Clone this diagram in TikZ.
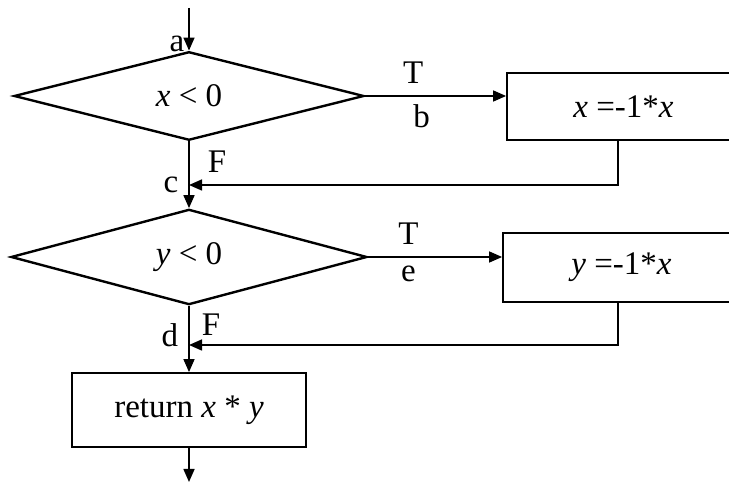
\documentclass[tikz,border=0pt]{standalone}
\usepackage{fontspec}
\setmainfont{Liberation Serif}
\usetikzlibrary{shapes.geometric,arrows.meta}

\begin{document}
\begin{tikzpicture}[x=0.5pt,y=-0.5pt,
  font=\fontsize{16.5}{19}\selectfont,
  decision/.style={diamond,draw,line width=1.2pt,inner sep=0pt},
  process/.style={rectangle,draw,line width=0.9pt,inner sep=0pt},
  arr/.style={line width=0.8pt,-{Triangle[length=6.5pt,width=5.5pt]}},
  lbl/.style={inner sep=2pt}]
\useasboundingbox (0,0) rectangle (729,491);
\clip (0,0) rectangle (729,491);
% nodes
\coordinate (in) at (189,8);
\node[decision,minimum width=175pt,minimum height=39pt] (d1) at (189,96) {\textit{x} < 0};
\node[process,minimum width=116.5pt,minimum height=33.5pt] (b1) at (623.5,106.5) {\textit{x} =-1*\textit{x}};
\coordinate (j1) at (189,185);
\node[decision,minimum width=178pt,minimum height=43pt] (d2) at (189,257) {\textit{y} < 0};
\node[process,minimum width=118.5pt,minimum height=34.5pt] (b2) at (621.5,267.5) {\textit{y} =-1*\textit{x}};
\coordinate (j2) at (189,345);
\node[process,minimum width=117pt,minimum height=37pt] (b3) at (189,410) {return \textit{x} * \textit{y}};
\coordinate (out) at (189,482);
% connectors
\draw[arr] (in) -- (d1.north) node[lbl,pos=0.85,left] {a};
\draw[arr] (d1.east) -- (d1.east -| b1.west)
  node[lbl,inner sep=6pt,pos=0.34,above] {T} node[lbl,inner sep=4pt,pos=0.4,below] {b};
\draw[arr] (d1.south) -- (d2.north) node[lbl,pos=0.3,right,xshift=7pt] {F};
\draw[arr] (b1.south -| 618,0) |- (j1) node[lbl,pos=1,left,xshift=-3pt] {c};
\draw[arr] (d2.east) -- (d2.east -| b2.west)
  node[lbl,inner sep=6pt,pos=0.3,above] {T} node[lbl,inner sep=4pt,pos=0.3,below] {e};
\draw[arr] (d2.south) -- (b3.north) node[lbl,pos=0.28,right,xshift=4pt] {F}
  node[lbl,pos=0.45,left,xshift=-3pt] {d};
\draw[arr] (b2.south -| 618,0) |- (j2);
\draw[arr] (b3.south) -- (out);
\end{tikzpicture}
\end{document}
